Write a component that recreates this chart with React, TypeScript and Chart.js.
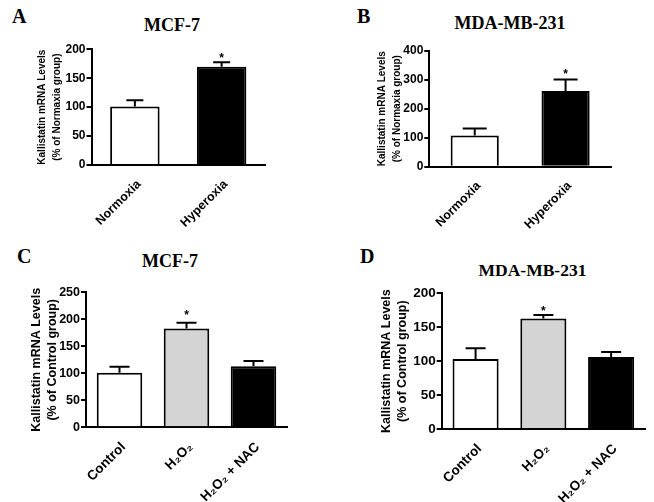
import React, { useEffect, useRef } from 'react';
import { Chart, registerables } from 'chart.js';

Chart.register(...registerables);

const SANS = '"Liberation Sans", Arial, Helvetica, sans-serif';
const SERIF = '"Liberation Serif", "Times New Roman", Times, serif';

// ---- Data ----
const categoriesAB = ['Normoxia', 'Hyperoxia'];
const categoriesCD = ['Control', 'H\u2082O\u2082', 'H\u2082O\u2082 + NAC'];

const valuesA = [101, 170];
const errorsA = [11, 7.5];
const starsA = [false, true];

const valuesB = [108, 261];
const errorsB = [24, 40];
const starsB = [false, true];

const valuesC = [101, 183, 113];
const errorsC = [11, 10.5, 10];
const starsC = [false, true, false];

const valuesD = [103, 163, 106];
const errorsD = [16, 5, 7.5];
const starsD = [false, true, false];

const yTitleAB = ['Kallistatin mRNA Levels', '(% of Normaxia group)'];
const yTitleCD = ['Kallistatin mRNA Levels', '(% of Control group)'];

const colorsAB = ['#ffffff', '#000000'];
const colorsCD = ['#ffffff', '#d4d4d4', '#000000'];

type PanelProps = {
  left: number; top: number; width: number; height: number;
  axisX: number; topY: number; zeroY: number; axisEnd: number;
  labels: string[]; values: number[]; errors: number[]; stars: boolean[]; colors: string[];
  yMax: number; yStep: number; yTitle: string[];
  tickSize: number; xLabelSize: number; titleSize: number; titleLH: number;
  barPct: number; cap: number; starGap: number;
};

function Panel(p: PanelProps) {
  const ref = useRef<HTMLCanvasElement>(null);
  useEffect(() => {
    if (!ref.current) return;
    const errorPlugin = {
      id: 'errorBars',
      afterDatasetsDraw(chart: any) {
        const ctx = chart.ctx;
        const meta = chart.getDatasetMeta(0);
        const ys = chart.scales.y;
        ctx.save();
        ctx.strokeStyle = '#000';
        ctx.lineWidth = 2;
        ctx.lineCap = 'butt';
        meta.data.forEach((el: any, i: number) => {
          const x = el.x;
          const t = ys.getPixelForValue(p.values[i] + p.errors[i]);
          ctx.beginPath();
          ctx.moveTo(x, el.y);
          ctx.lineTo(x, t);
          ctx.moveTo(x - p.cap / 2, t);
          ctx.lineTo(x + p.cap / 2, t);
          ctx.stroke();
          if (p.stars[i]) {
            ctx.fillStyle = '#000';
            ctx.font = `bold 12px ${SANS}`;
            ctx.textAlign = 'center';
            ctx.textBaseline = 'alphabetic';
            ctx.fillText('*', x, t - p.starGap);
          }
        });
        ctx.restore();
      },
    };
    const chart = new Chart(ref.current, {
      type: 'bar',
      data: {
        labels: p.labels,
        datasets: [
          {
            data: p.values,
            backgroundColor: p.colors,
            borderColor: '#000',
            borderWidth: 2,
            borderSkipped: 'start',
            barPercentage: p.barPct,
            categoryPercentage: 1,
          },
        ],
      },
      options: {
        responsive: false,
        animation: false,
        devicePixelRatio: 1,
        layout: {
          padding: { top: p.topY - p.top, right: p.left + p.width - p.axisEnd, left: 0, bottom: 0 },
        },
        plugins: { legend: { display: false }, tooltip: { enabled: false }, title: { display: false } },
        scales: {
          x: {
            ticks: {
              color: '#000',
              font: { family: SANS, size: p.xLabelSize, weight: 'bold' },
              minRotation: 45,
              maxRotation: 45,
              autoSkip: false,
              padding: 4,
              labelOffset: 4,
            },
            grid: { display: false },
            border: { display: true, color: '#000', width: 2 },
            afterFit: (s: any) => { s.height = p.top + p.height - p.zeroY; },
          },
          y: {
            min: 0,
            max: p.yMax,
            ticks: {
              stepSize: p.yStep,
              color: '#000',
              font: { family: SANS, size: p.tickSize, weight: 'bold' },
              padding: 1,
            },
            grid: { display: true, drawOnChartArea: false, drawTicks: true, tickLength: 5, color: '#000', lineWidth: 2 },
            border: { display: true, color: '#000', width: 2 },
            title: {
              display: true,
              text: p.yTitle,
              color: '#000',
              font: { family: SANS, size: p.titleSize, weight: 'bold', lineHeight: p.titleLH },
              padding: { top: 0, bottom: 0 },
            },
            afterFit: (s: any) => { s.width = p.axisX - p.left; },
          },
        },
      } as any,
      plugins: [errorPlugin],
    });
    return () => chart.destroy();
  }, []);
  return (
    <canvas
      ref={ref}
      width={p.width}
      height={p.height}
      style={{ position: 'absolute', left: p.left, top: p.top, width: p.width, height: p.height }}
    />
  );
}

function Label(props: { text: string; x: number; baseline: number; size: number; center?: boolean }) {
  const { text, x, baseline, size, center } = props;
  return (
    <div
      style={{
        position: 'absolute',
        left: x,
        top: baseline - 0.8375 * size,
        fontFamily: SERIF,
        fontWeight: 'bold',
        fontSize: size,
        lineHeight: `${size}px`,
        whiteSpace: 'nowrap',
        color: '#000',
        transform: center ? 'translateX(-50%)' : undefined,
      }}
    >
      {text}
    </div>
  );
}

export default function App() {
  return (
    <div style={{ position: 'absolute', left: 0, top: 0, width: 654, height: 502, background: '#fff', overflow: 'hidden' }}>
      <Label text="A" x={12} baseline={22.7} size={20} />
      <Label text="B" x={357} baseline={22.7} size={20} />
      <Label text="C" x={17} baseline={262.7} size={20} />
      <Label text="D" x={360} baseline={262.7} size={20} />
      <Label text="MCF-7" x={172} baseline={31} size={18} center />
      <Label text="MDA-MB-231" x={510} baseline={29} size={18} center />
      <Label text="MCF-7" x={170} baseline={267} size={18} center />
      <Label text="MDA-MB-231" x={532.5} baseline={277} size={17.5} center />

      <Panel
        left={35} top={35} width={265} height={200}
        axisX={91.5} topY={49.3} zeroY={165} axisEnd={265}
        labels={categoriesAB} values={valuesA} errors={errorsA} stars={starsA} colors={colorsAB}
        yMax={200} yStep={50} yTitle={yTitleAB}
        tickSize={12} xLabelSize={12.5} titleSize={10} titleLH={1.5}
        barPct={0.57} cap={17} starGap={0.5}
      />
      <Panel
        left={375} top={35} width={265} height={200}
        axisX={429.3} topY={50.7} zeroY={166.7} axisEnd={611}
        labels={categoriesAB} values={valuesB} errors={errorsB} stars={starsB} colors={colorsAB}
        yMax={400} yStep={100} yTitle={yTitleAB}
        tickSize={12} xLabelSize={12.5} titleSize={10} titleLH={1.5}
        barPct={0.53} cap={24} starGap={1.5}
      />
      <Panel
        left={28} top={275} width={282} height={227}
        axisX={86} topY={292.3} zeroY={427.3} axisEnd={287}
        labels={categoriesCD} values={valuesC} errors={errorsC} stars={starsC} colors={colorsCD}
        yMax={250} yStep={50} yTitle={yTitleCD}
        tickSize={12.5} xLabelSize={13.5} titleSize={12.5} titleLH={1.33}
        barPct={0.68} cap={20} starGap={4}
      />
      <Panel
        left={379} top={275} width={275} height={227}
        axisX={441.7} topY={293.3} zeroY={429} axisEnd={645}
        labels={categoriesCD} values={valuesD} errors={errorsD} stars={starsD} colors={colorsCD}
        yMax={200} yStep={50} yTitle={yTitleCD}
        tickSize={13.5} xLabelSize={13.5} titleSize={12.5} titleLH={1.28}
        barPct={0.68} cap={20} starGap={0.5}
      />
    </div>
  );
}
